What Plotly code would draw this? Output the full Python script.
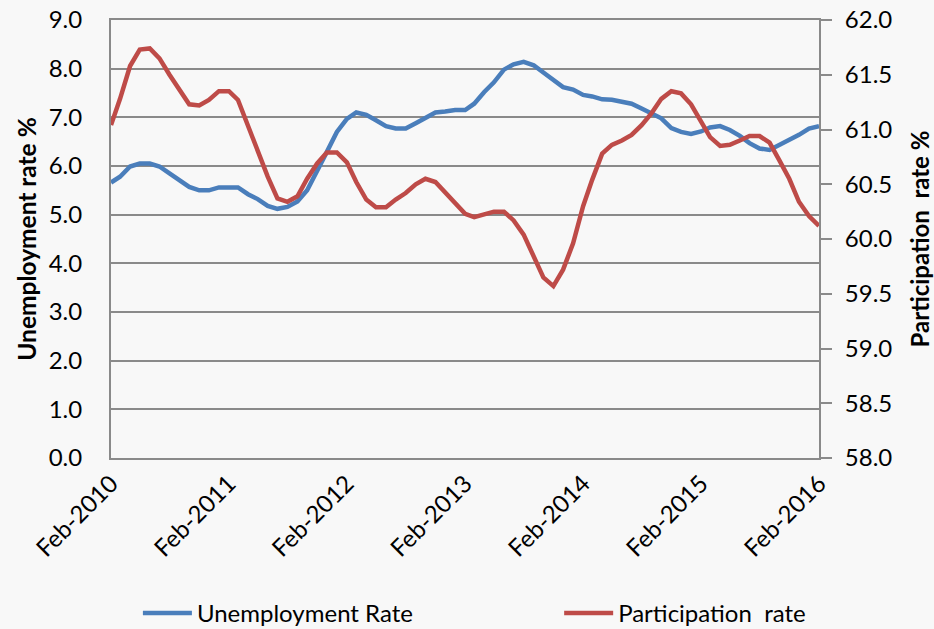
import pandas as pd
import plotly.graph_objects as go

# monthly observations, Feb-2010 .. Feb-2016
months = pd.date_range("2010-02-01", "2016-02-01", freq="MS")

unemployment_rate = [
    5.66, 5.78, 5.99, 6.05, 6.05, 5.99, 5.85, 5.71, 5.57, 5.50, 5.50, 5.56,
    5.57, 5.56, 5.42, 5.32, 5.18, 5.12, 5.16, 5.27, 5.50, 5.88, 6.29, 6.70,
    6.97, 7.10, 7.05, 6.94, 6.82, 6.77, 6.77, 6.88, 6.99, 7.10, 7.12, 7.15,
    7.15, 7.28, 7.52, 7.72, 7.98, 8.09, 8.14, 8.07, 7.92, 7.78, 7.62, 7.57,
    7.46, 7.43, 7.37, 7.36, 7.32, 7.28, 7.18, 7.08, 6.98, 6.78, 6.70, 6.66,
    6.71, 6.79, 6.82, 6.74, 6.62, 6.47, 6.36, 6.33, 6.43, 6.53, 6.64, 6.77,
    6.82,
]

participation_rate = [
    61.04, 61.28, 61.58, 61.73, 61.74, 61.65, 61.50, 61.37, 61.23, 61.22, 61.27, 61.35,
    61.35, 61.27, 61.03, 60.81, 60.57, 60.37, 60.34, 60.39, 60.55, 60.69, 60.79, 60.79,
    60.70, 60.52, 60.36, 60.29, 60.29, 60.36, 60.42, 60.50, 60.55, 60.52, 60.43, 60.33,
    60.23, 60.20, 60.23, 60.25, 60.25, 60.17, 60.04, 59.83, 59.65, 59.57, 59.72, 59.96,
    60.30, 60.54, 60.78, 60.86, 60.90, 60.95, 61.04, 61.15, 61.28, 61.35, 61.33, 61.23,
    61.07, 60.93, 60.85, 60.86, 60.90, 60.94, 60.94, 60.88, 60.72, 60.55, 60.34, 60.21,
    60.12,
]

tick_dates = pd.date_range("2010-02-01", "2016-02-01", freq="12MS")
tick_labels = ["Feb-2010", "Feb-2011", "Feb-2012", "Feb-2013", "Feb-2014", "Feb-2015", "Feb-2016"]

grey = "#8a8a8a"
font = "Lato, 'Open Sans', sans-serif"

fig = go.Figure()
fig.add_trace(go.Scatter(
    x=months, y=unemployment_rate,
    name="Unemployment Rate",
    mode="lines",
    line=dict(color="#4a7ebb", width=4.5),
    legend="legend",
))
fig.add_trace(go.Scatter(
    x=months, y=participation_rate,
    name="Participation\u00a0 rate",
    mode="lines",
    line=dict(color="#be4b48", width=4.5),
    yaxis="y2",
    legend="legend2",
))

legend_style = dict(
    orientation="h",
    xanchor="left",
    y=-0.355,
    yanchor="middle",
    itemwidth=49,
    font=dict(size=24),
    bgcolor="rgba(0,0,0,0)",
)

fig.update_layout(
    width=934,
    height=629,
    margin=dict(l=111, r=115, t=20, b=171, autoexpand=False),
    showlegend=True,
    paper_bgcolor="#f8f8f8",
    plot_bgcolor="#f8f8f8",
    font=dict(family=font, size=24, color="#000000"),
    xaxis=dict(
        range=[months[0], months[-1]],
        tickvals=tick_dates,
        ticktext=tick_labels,
        tickangle=-45,
        ticks="",
        showgrid=False,
        showline=True,
        linecolor=grey,
        linewidth=2,
        mirror=True,
        zeroline=False,
        automargin=False,
    ),
    yaxis=dict(
        range=[0, 9],
        dtick=1,
        tickformat=".1f",
        ticks="",
        ticklabelstandoff=22,
        showgrid=True,
        gridcolor=grey,
        gridwidth=2,
        showline=True,
        linecolor=grey,
        linewidth=2,
        zeroline=False,
        automargin=False,
        title=dict(text="<b>Unemployment rate %</b>", font=dict(size=24.5), standoff=5),
    ),
    yaxis2=dict(
        range=[58, 62],
        dtick=0.5,
        tickformat=".1f",
        overlaying="y",
        side="right",
        ticks="outside",
        ticklen=11,
        tickwidth=2,
        tickcolor=grey,
        ticklabelstandoff=8,
        showgrid=False,
        showline=True,
        linecolor=grey,
        linewidth=2,
        zeroline=False,
        automargin=False,
        title=dict(text="<b>Participation\u00a0 rate %</b>", font=dict(size=24), standoff=22),
    ),
    legend=dict(x=0.038, **legend_style),
    legend2=dict(x=0.633, **legend_style),
)

fig.write_html(
    "out.html",
    config={"displayModeBar": False},
    post_script="document.body.style.margin='0';",
)
